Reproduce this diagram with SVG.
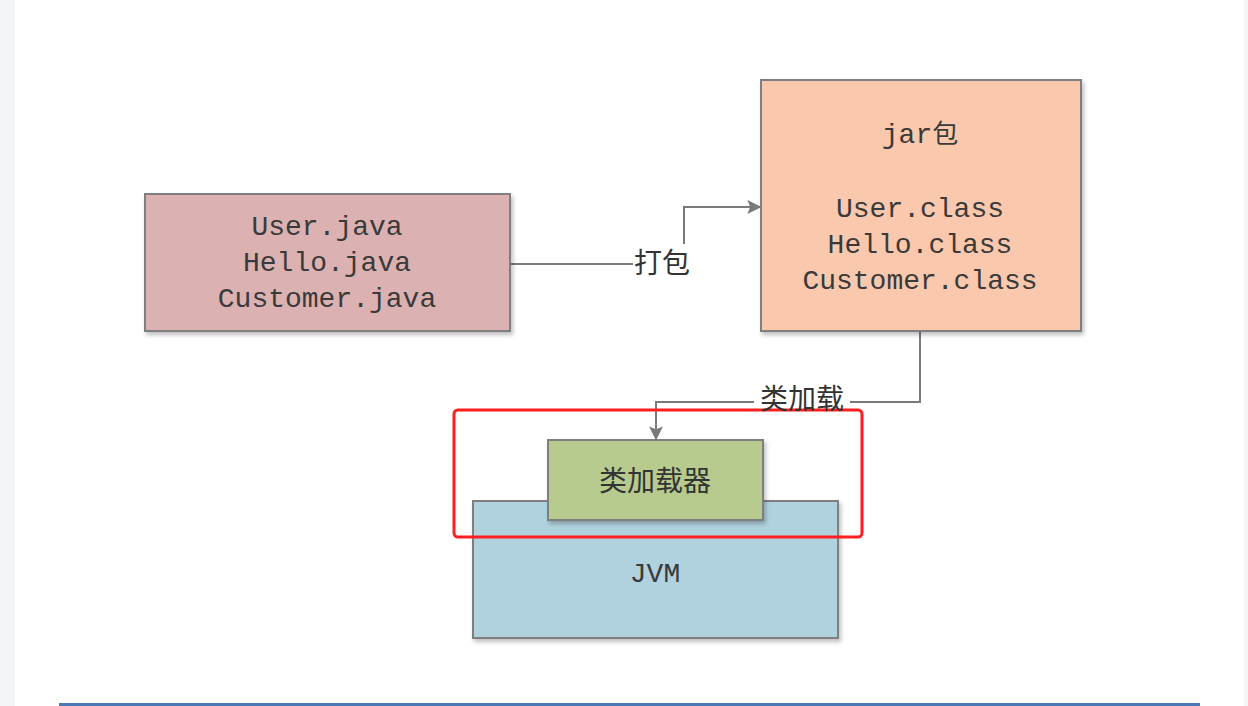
<svg xmlns="http://www.w3.org/2000/svg" width="1248" height="706" viewBox="0 0 1248 706">
  <defs>
    <filter id="sh" x="-5%" y="-5%" width="115%" height="115%">
      <feDropShadow dx="2" dy="3" stdDeviation="2" flood-color="#000" flood-opacity="0.25"/>
    </filter>
    <marker id="arr" viewBox="0 0 10 10" refX="9" refY="5" markerWidth="14" markerHeight="14" markerUnits="userSpaceOnUse" orient="auto">
      <path d="M0,0 L10,5 L0,10 L2,5 Z" fill="#7a7a7a"/>
    </marker>
    <style>
      .box { stroke: #7f7f7f; stroke-width: 2; filter: url(#sh); }
      .mono { font-family: "Liberation Mono", "Noto Sans CJK SC", monospace; font-size: 28px; fill: #3a3a3a; text-anchor: middle; }
      .cjk { font-family: "Noto Sans CJK SC", sans-serif; font-size: 28px; fill: #333; text-anchor: middle; }
      .conn { fill: none; stroke: #7a7a7a; stroke-width: 2; }
    </style>
  </defs>
  <rect x="0" y="0" width="1248" height="706" fill="#ffffff"/>
  <rect x="0" y="0" width="15" height="706" fill="#f4f5f9"/>
  <rect x="1244" y="0" width="4" height="706" fill="#f4f5f9"/>
  <rect x="59" y="703" width="1141" height="3" fill="#4a7ab5"/>

  <g id="connectors">
    <path class="conn" d="M510 264 H633"/>
    <path class="conn" d="M684 244 V207 H760" marker-end="url(#arr)"/>
    <path class="conn" d="M920 331 V402 H850"/>
    <path class="conn" d="M754 402 H656 V439" marker-end="url(#arr)"/>
  </g>

  <g id="source">
    <rect class="box" x="145" y="194" width="365" height="137" fill="#dcb1b1"/>
    <text class="mono" x="327" y="235">User.java</text>
    <text class="mono" x="327" y="271">Hello.java</text>
    <text class="mono" x="327" y="307">Customer.java</text>
  </g>

  <g id="jar">
    <rect class="box" x="761" y="80" width="320" height="251" fill="#fac8ac"/>
    <text class="mono" x="920" y="143">jar<tspan font-family="Noto Sans CJK SC, sans-serif" font-size="26">包</tspan></text>
    <text class="mono" x="920" y="217">User.class</text>
    <text class="mono" x="920" y="253">Hello.class</text>
    <text class="mono" x="920" y="289">Customer.class</text>
  </g>

  <g id="jvm">
    <rect class="box" x="473" y="501" width="365" height="137" fill="#b0d2df"/>
    <text class="mono" x="655" y="582">JVM</text>
  </g>

  <g id="classloader">
    <rect class="box" x="548" y="440" width="215" height="80" fill="#b6cb8d"/>
    <text class="cjk" x="655" y="491" font-size="29">类加载器</text>
  </g>

  <g id="highlight">
    <rect x="454" y="410" width="408" height="127" rx="4" fill="none" stroke="#ff1f1f" stroke-width="3"/>
  </g>

  <g id="labels">
    <text class="cjk" x="662" y="273">打包</text>
    <text class="cjk" x="802" y="409">类加载</text>
  </g>
</svg>
